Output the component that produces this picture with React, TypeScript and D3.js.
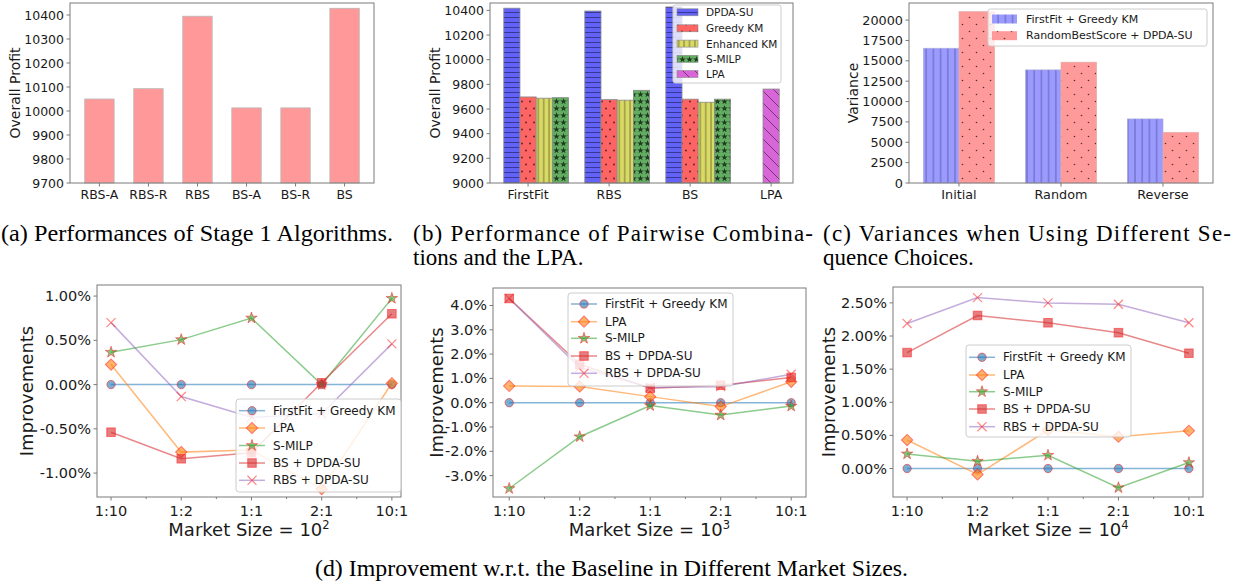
import React from 'react';
import * as d3 from 'd3';

// ---- (a) stage 1 algorithms
const stage1Algos = ['RBS-A', 'RBS-R', 'RBS', 'BS-A', 'BS-R', 'BS'];
const stage1Profit = [10050, 10093, 10395, 10013, 10013, 10428];
const stage1Ticks = [9700, 9800, 9900, 10000, 10100, 10200, 10300, 10400];

// ---- (b) pairwise combinations
const pairGroups = ['FirstFit', 'RBS', 'BS', 'LPA'];
const pairSeries = ['DPDA-SU', 'Greedy KM', 'Enhanced KM', 'S-MILP', 'LPA'];
const dpdaProfit = [10418, 10395, 10428];
const greedyProfit = [9698, 9676, 9680];
const enhancedProfit = [9688, 9672, 9655];
const smilpProfit = [9692, 9752, 9680];
const lpaProfit = [9762];
const pairTicks = [9000, 9200, 9400, 9600, 9800, 10000, 10200, 10400];

// ---- (c) sequence choices
const seqChoices = ['Initial', 'Random', 'Reverse'];
const seqSeries = ['FirstFit + Greedy KM', 'RandomBestScore + DPDA-SU'];
const ffGreedyVar = [16550, 13890, 7870];
const rbsDpdaVar = [21050, 14840, 6230];
const varTicks = [0, 2500, 5000, 7500, 10000, 12500, 15000, 17500, 20000];

// ---- (d) improvements (%)
const ratios = ['1:10', '1:2', '1:1', '2:1', '10:1'];
const lineSeries = ['FirstFit + Greedy KM', 'LPA', 'S-MILP', 'BS + DPDA-SU', 'RBS + DPDA-SU'];

const ff100 = [0, 0, 0, 0, 0];
const lpa100 = [0.226, -0.763, -0.74, -1.18, 0.015];
const smilp100 = [0.365, 0.508, 0.752, 0.0, 0.974];
const bs100 = [-0.538, -0.838, -0.77, 0.02, 0.8];
const rbs100 = [0.7, -0.135, -0.37, -0.33, 0.46];
const ticks100 = [-1, -0.5, 0, 0.5, 1];

const ff1000 = [0, 0, 0, 0, 0];
const lpa1000 = [0.69, 0.67, 0.25, -0.16, 0.86];
const smilp1000 = [-3.53, -1.4, -0.12, -0.51, -0.14];
const bs1000 = [4.29, 1.58, 0.59, 0.72, 1.04];
const rbs1000 = [4.29, 1.45, 0.63, 0.66, 1.17];
const ticks1000 = [-3, -2, -1, 0, 1, 2, 3, 4];

const ff10000 = [0, 0, 0, 0, 0];
const lpa10000 = [0.43, -0.09, 0.58, 0.48, 0.57];
const smilp10000 = [0.22, 0.11, 0.2, -0.29, 0.09];
const bs10000 = [1.75, 2.31, 2.2, 2.05, 1.74];
const rbs10000 = [2.19, 2.58, 2.5, 2.48, 2.2];
const ticks10000 = [0, 0.5, 1, 1.5, 2, 2.5];

const FONT = '"DejaVu Sans", sans-serif';
const SERIF = '"Liberation Serif", "Times New Roman", serif';
const FRAME = '#7a7a7a';
const INK = '#1a1a1a';

const tab = ['#1f77b4', '#ff7f0e', '#2ca02c', '#d62728', '#9467bd'];
const markerKinds = ['circle', 'diamond', 'star', 'square', 'x'];

type Box = { l: number; r: number; t: number; b: number };

const Frame = ({ ax }: { ax: Box }) => (
  <rect x={ax.l} y={ax.t} width={ax.r - ax.l} height={ax.b - ax.t} fill="none" stroke={FRAME} strokeWidth={1} />
);

const YAxis = ({ ax, y, ticks, fmt, size }: any) => (
  <g fontFamily={FONT} fontSize={size} fill={INK}>
    {ticks.map((t: number) => (
      <g key={t}>
        <line x1={ax.l - 3.5} x2={ax.l} y1={y(t)} y2={y(t)} stroke={FRAME} />
        <text x={ax.l - 6} y={y(t)} textAnchor="end" dominantBaseline="central">
          {fmt(t)}
        </text>
      </g>
    ))}
  </g>
);

const XLabels = ({ ax, x, labels, pos, size, dy }: any) => (
  <g fontFamily={FONT} fontSize={size} fill={INK}>
    {labels.map((lab: string, i: number) => (
      <g key={lab + i}>
        <line x1={x(pos[i])} x2={x(pos[i])} y1={ax.b} y2={ax.b + 3.5} stroke={FRAME} />
        <text x={x(pos[i])} y={ax.b + dy} textAnchor="middle" dominantBaseline="central">
          {lab}
        </text>
      </g>
    ))}
  </g>
);

const YTitle = ({ x, y, text, size }: any) => (
  <text
    transform={`translate(${x},${y}) rotate(-90)`}
    textAnchor="middle"
    dominantBaseline="central"
    fontFamily={FONT}
    fontSize={size}
    fill={INK}
  >
    {text}
  </text>
);

const starPath = d3.symbol(d3.symbolStar, 14)() as string;

const Patterns = () => (
  <defs>
    <pattern id="hDpda" width="8" height="5" patternUnits="userSpaceOnUse">
      <rect width="8" height="5" fill="#6262f6" />
      <line x1="0" x2="8" y1="2.5" y2="2.5" stroke="#2c2c80" strokeWidth="0.8" />
    </pattern>
    <pattern id="hGreedy" width="8" height="14" patternUnits="userSpaceOnUse">
      <rect width="8" height="14" fill="#ff6464" />
      <circle cx="2" cy="3.5" r="0.9" fill="#502020" />
      <circle cx="6" cy="10.5" r="0.9" fill="#502020" />
    </pattern>
    <pattern id="hEnh" width="5.4" height="10" patternUnits="userSpaceOnUse" x="1">
      <rect width="5.4" height="10" fill="#d9d966" />
      <line x1="2.7" x2="2.7" y1="0" y2="10" stroke="#5c5c2c" strokeWidth="0.8" />
    </pattern>
    <pattern id="hSmilp" width="7" height="7" patternUnits="userSpaceOnUse">
      <rect width="7" height="7" fill="#63ad63" />
      <path d={starPath} transform="translate(3.5,3.5)" fill="#1e3a1e" />
    </pattern>
    <pattern id="hLpa" width="12" height="12" patternUnits="userSpaceOnUse">
      <rect width="12" height="12" fill="#d966d9" />
      <line x1="0" y1="0" x2="12" y2="12" stroke="#5a2a5a" strokeWidth="0.8" />
      <line x1="-12" y1="0" x2="0" y2="12" stroke="#5a2a5a" strokeWidth="0.8" />
      <line x1="12" y1="0" x2="24" y2="12" stroke="#5a2a5a" strokeWidth="0.8" />
    </pattern>
    <pattern id="hVarBlue" width="7.2" height="10" patternUnits="userSpaceOnUse" x="1">
      <rect width="7.2" height="10" fill="#9a9aff" />
      <line x1="3.6" x2="3.6" y1="0" y2="10" stroke="#5a5aa8" strokeWidth="0.9" />
    </pattern>
    <pattern id="hVarRed" width="14" height="14" patternUnits="userSpaceOnUse">
      <rect width="14" height="14" fill="#ff9a9a" />
      <circle cx="3.5" cy="3.5" r="0.8" fill="#5a2e2e" />
      <circle cx="10.5" cy="10.5" r="0.8" fill="#5a2e2e" />
    </pattern>
  </defs>
);

// ---------------- panel (a)
const PanelA = () => {
  const ax = { l: 70, r: 374, t: 3, b: 183 };
  const x = d3.scaleLinear().domain([-0.6, 5.6]).range([ax.l, ax.r]);
  const y = d3.scaleLinear().domain([9700, 10450]).range([ax.b, ax.t]);
  const w = x(0.6) - x(0);
  return (
    <g>
      {stage1Profit.map((v, i) => (
        <rect key={i} x={x(i) - w / 2} y={y(v)} width={w} height={y(9700) - y(v)} fill="#ff9999" stroke="#b8b8b8" strokeWidth={0.8} />
      ))}
      <Frame ax={ax} />
      <YAxis ax={ax} y={y} ticks={stage1Ticks} fmt={(t: number) => String(t)} size={12.5} />
      <XLabels ax={ax} x={x} labels={stage1Algos} pos={stage1Algos.map((_, i) => i)} size={12.5} dy={11} />
      <YTitle x={15} y={93} text="Overall Profit" size={14} />
    </g>
  );
};

// ---------------- panel (b)
const PanelB = () => {
  const ax = { l: 490, r: 793, t: 3, b: 183 };
  const x = d3.scaleLinear().domain([-0.47, 3.27]).range([ax.l, ax.r]);
  const y = d3.scaleLinear().domain([9000, 10460]).range([ax.b, ax.t]);
  const w = x(0.2) - x(0);
  const fills = ['url(#hDpda)', 'url(#hGreedy)', 'url(#hEnh)', 'url(#hSmilp)', 'url(#hLpa)'];
  const groups = [dpdaProfit, greedyProfit, enhancedProfit, smilpProfit];
  const bar = (cx: number, v: number, f: string, k: string) => (
    <rect key={k} x={cx - w / 2} y={y(v)} width={w} height={y(9000) - y(v)} fill={f} stroke="#8a8a8a" strokeWidth={0.8} />
  );
  const lg = { l: 673, t: 5, w: 108, h: 78 };
  const rowY = [12.3, 28.3, 43.6, 58.8, 74];
  return (
    <g>
      {groups.map((vals, s) => vals.map((v, g) => bar(x(g + (s - 1) * 0.2), v, fills[s], `${s}-${g}`)))}
      {lpaProfit.map((v, i) => bar(x(3 + i), v, fills[4], `lpa${i}`))}
      <Frame ax={ax} />
      <YAxis ax={ax} y={y} ticks={pairTicks} fmt={(t: number) => String(t)} size={12.5} />
      <XLabels ax={ax} x={x} labels={pairGroups} pos={pairGroups.map((_, i) => i)} size={12.5} dy={11} />
      <YTitle x={435} y={93} text="Overall Profit" size={14} />
      <rect x={lg.l} y={lg.t} width={lg.w} height={lg.h} rx={2.5} fill="white" fillOpacity={0.8} stroke="#cccccc" />
      {pairSeries.map((s, i) => (
        <g key={s}>
          <rect x={677} y={rowY[i] - 3.5} width={21} height={7} fill={fills[i]} stroke="#8a8a8a" strokeWidth={0.6} />
          <text x={706} y={rowY[i]} dominantBaseline="central" fontFamily={FONT} fontSize={10.5} fill={INK}>
            {s}
          </text>
        </g>
      ))}
    </g>
  );
};

// ---------------- panel (c)
const PanelC = () => {
  const ax = { l: 909, r: 1213, t: 3, b: 183 };
  const x = d3.scaleLinear().domain([-0.49, 2.49]).range([ax.l, ax.r]);
  const y = d3.scaleLinear().domain([0, 22100]).range([ax.b, ax.t]);
  const w = x(0.35) - x(0);
  const fills = ['url(#hVarBlue)', 'url(#hVarRed)'];
  const rowY = [19, 35.7];
  return (
    <g>
      {ffGreedyVar.map((v, i) => (
        <rect key={'b' + i} x={x(i) - w} y={y(v)} width={w} height={y(0) - y(v)} fill={fills[0]} stroke="#b0b0d8" strokeWidth={0.6} />
      ))}
      {rbsDpdaVar.map((v, i) => (
        <rect key={'r' + i} x={x(i)} y={y(v)} width={w} height={y(0) - y(v)} fill={fills[1]} stroke="#e0b0b0" strokeWidth={0.6} />
      ))}
      <Frame ax={ax} />
      <YAxis ax={ax} y={y} ticks={varTicks} fmt={(t: number) => String(t)} size={12.8} />
      <XLabels ax={ax} x={x} labels={seqChoices} pos={seqChoices.map((_, i) => i)} size={12.8} dy={11} />
      <YTitle x={853} y={93} text="Variance" size={14} />
      <rect x={988} y={9} width={219} height={37} rx={2.5} fill="white" fillOpacity={0.8} stroke="#cccccc" />
      {seqSeries.map((s, i) => (
        <g key={s}>
          <rect x={992} y={rowY[i] - 4.5} width={25} height={9} fill={fills[i]} />
          <text x={1026} y={rowY[i]} dominantBaseline="central" fontFamily={FONT} fontSize={11} fill={INK}>
            {s}
          </text>
        </g>
      ))}
    </g>
  );
};

// ---------------- markers
const Marker = ({ kind, cx, cy, color }: { kind: string; cx: number; cy: number; color: string }) => {
  const edge = { stroke: '#ff2020', strokeOpacity: 0.55, strokeWidth: 1 };
  if (kind === 'circle') return <circle cx={cx} cy={cy} r={4.2} fill={color} fillOpacity={0.6} {...edge} />;
  if (kind === 'diamond')
    return <rect x={cx - 4} y={cy - 4} width={8} height={8} transform={`rotate(45 ${cx} ${cy})`} fill={color} fillOpacity={0.6} {...edge} />;
  if (kind === 'square') return <rect x={cx - 4.3} y={cy - 4.3} width={8.6} height={8.6} fill={color} fillOpacity={0.6} {...edge} />;
  if (kind === 'star')
    return <path d={d3.symbol(d3.symbolStar, 40)() as string} transform={`translate(${cx},${cy})`} fill={color} fillOpacity={0.6} {...edge} />;
  return <path d={d3.symbol(d3.symbolX, 55)() as string} transform={`translate(${cx},${cy})`} fill="none" stroke="#ff2020" strokeOpacity={0.55} strokeWidth={1.2} />;
};

type LineProps = {
  ax: Box;
  xDom: [number, number];
  yDom: [number, number];
  series: number[][];
  ticks: number[];
  fmt: (t: number) => string;
  power: string;
  yTitleX: number;
  legend: { l: number; t: number; w: number; h: number; rows: number[] };
};

const LinePanel = ({ ax, xDom, yDom, series, ticks, fmt, power, yTitleX, legend }: LineProps) => {
  const x = d3.scaleLinear().domain(xDom).range([ax.l, ax.r]);
  const y = d3.scaleLinear().domain(yDom).range([ax.b, ax.t]);
  const line = d3
    .line<number>()
    .x((_, i) => x(i))
    .y((d) => y(d));
  const clipId = `clip${ax.l}`;
  const minor = d3.range(0.5, ratios.length - 1, 1);
  return (
    <g>
      <clipPath id={clipId}>
        <rect x={ax.l} y={ax.t} width={ax.r - ax.l} height={ax.b - ax.t} />
      </clipPath>
      <g clipPath={`url(#${clipId})`}>
        {series.map((vals, s) => (
          <path key={'l' + s} d={line(vals) as string} fill="none" stroke={tab[s]} strokeOpacity={0.55} strokeWidth={1.5} />
        ))}
        {series.map((vals, s) =>
          vals.map((v, i) => <Marker key={`m${s}-${i}`} kind={markerKinds[s]} cx={x(i)} cy={y(v)} color={tab[s]} />)
        )}
      </g>
      <Frame ax={ax} />
      <YAxis ax={ax} y={y} ticks={ticks} fmt={fmt} size={14.5} />
      {minor.map((m) => (
        <line key={m} x1={x(m)} x2={x(m)} y1={ax.b} y2={ax.b + 2} stroke={FRAME} />
      ))}
      <XLabels ax={ax} x={x} labels={ratios} pos={ratios.map((_, i) => i)} size={14.5} dy={14} />
      <YTitle x={yTitleX} y={(ax.t + ax.b) / 2} text="Improvements" size={18} />
      <text x={(ax.l + ax.r) / 2} y={ax.b + 39} textAnchor="middle" fontFamily={FONT} fontSize={18} fill={INK}>
        Market Size = 10
        <tspan dy={-7} fontSize={11.5}>
          {power}
        </tspan>
      </text>
      <rect x={legend.l} y={legend.t} width={legend.w} height={legend.h} rx={3} fill="white" fillOpacity={0.8} stroke="#cccccc" />
      {lineSeries.map((s, i) => (
        <g key={s}>
          <line x1={legend.l + 3} x2={legend.l + 29} y1={legend.rows[i]} y2={legend.rows[i]} stroke={tab[i]} strokeOpacity={0.55} strokeWidth={1.5} />
          <Marker kind={markerKinds[i]} cx={legend.l + 16} cy={legend.rows[i]} color={tab[i]} />
          <text x={legend.l + 37} y={legend.rows[i]} dominantBaseline="central" fontFamily={FONT} fontSize={12} fill={INK}>
            {s}
          </text>
        </g>
      ))}
    </g>
  );
};

const pct2 = (t: number) => `${t.toFixed(2)}%`;
const pct1 = (t: number) => `${t.toFixed(1)}%`;

export default function App() {
  return (
    <svg width={1237} height={588} viewBox="0 0 1237 588" style={{ position: 'absolute', left: 0, top: 0, background: 'white' }}>
      <Patterns />
      <PanelA />
      <PanelB />
      <PanelC />
      <LinePanel
        ax={{ l: 97, r: 401, t: 285, b: 497 }}
        xDom={[-0.2, 4.13]}
        yDom={[-1.27, 1.125]}
        series={[ff100, lpa100, smilp100, bs100, rbs100]}
        ticks={ticks100}
        fmt={pct2}
        power="2"
        yTitleX={26}
        legend={{ l: 236, t: 399, w: 165, h: 93, rows: [410.7, 428, 445.5, 463, 480.3] }}
      />
      <LinePanel
        ax={{ l: 493, r: 806, t: 288, b: 497 }}
        xDom={[-0.23, 4.21]}
        yDom={[-3.88, 4.72]}
        series={[ff1000, lpa1000, smilp1000, bs1000, rbs1000]}
        ticks={ticks1000}
        fmt={pct1}
        power="3"
        yTitleX={436}
        legend={{ l: 568, t: 293, w: 165, h: 93, rows: [304, 321.7, 338.3, 356, 373.3] }}
      />
      <LinePanel
        ax={{ l: 893, r: 1203, t: 287, b: 497 }}
        xDom={[-0.2, 4.2]}
        yDom={[-0.43, 2.74]}
        series={[ff10000, lpa10000, smilp10000, bs10000, rbs10000]}
        ticks={ticks10000}
        fmt={pct2}
        power="4"
        yTitleX={828}
        legend={{ l: 966, t: 345, w: 165, h: 92, rows: [357.3, 375, 391.7, 409, 426.7] }}
      />
      <g fontFamily={SERIF} fontSize={23} fill="#000">
        <text x={1} y={241} textLength={392} lengthAdjust="spacingAndGlyphs">
          (a) Performances of Stage 1 Algorithms.
        </text>
        <text x={413} y={241} textLength={400} lengthAdjust="spacing">
          (b) Performance of Pairwise Combina-
        </text>
        <text x={413} y={265}>tions and the LPA.</text>
        <text x={823} y={241} textLength={408} lengthAdjust="spacing">
          (c) Variances when Using Different Se-
        </text>
        <text x={823} y={265}>quence Choices.</text>
        <text x={315} y={576} textLength={593} lengthAdjust="spacingAndGlyphs">
          (d) Improvement w.r.t. the Baseline in Different Market Sizes.
        </text>
      </g>
    </svg>
  );
}
